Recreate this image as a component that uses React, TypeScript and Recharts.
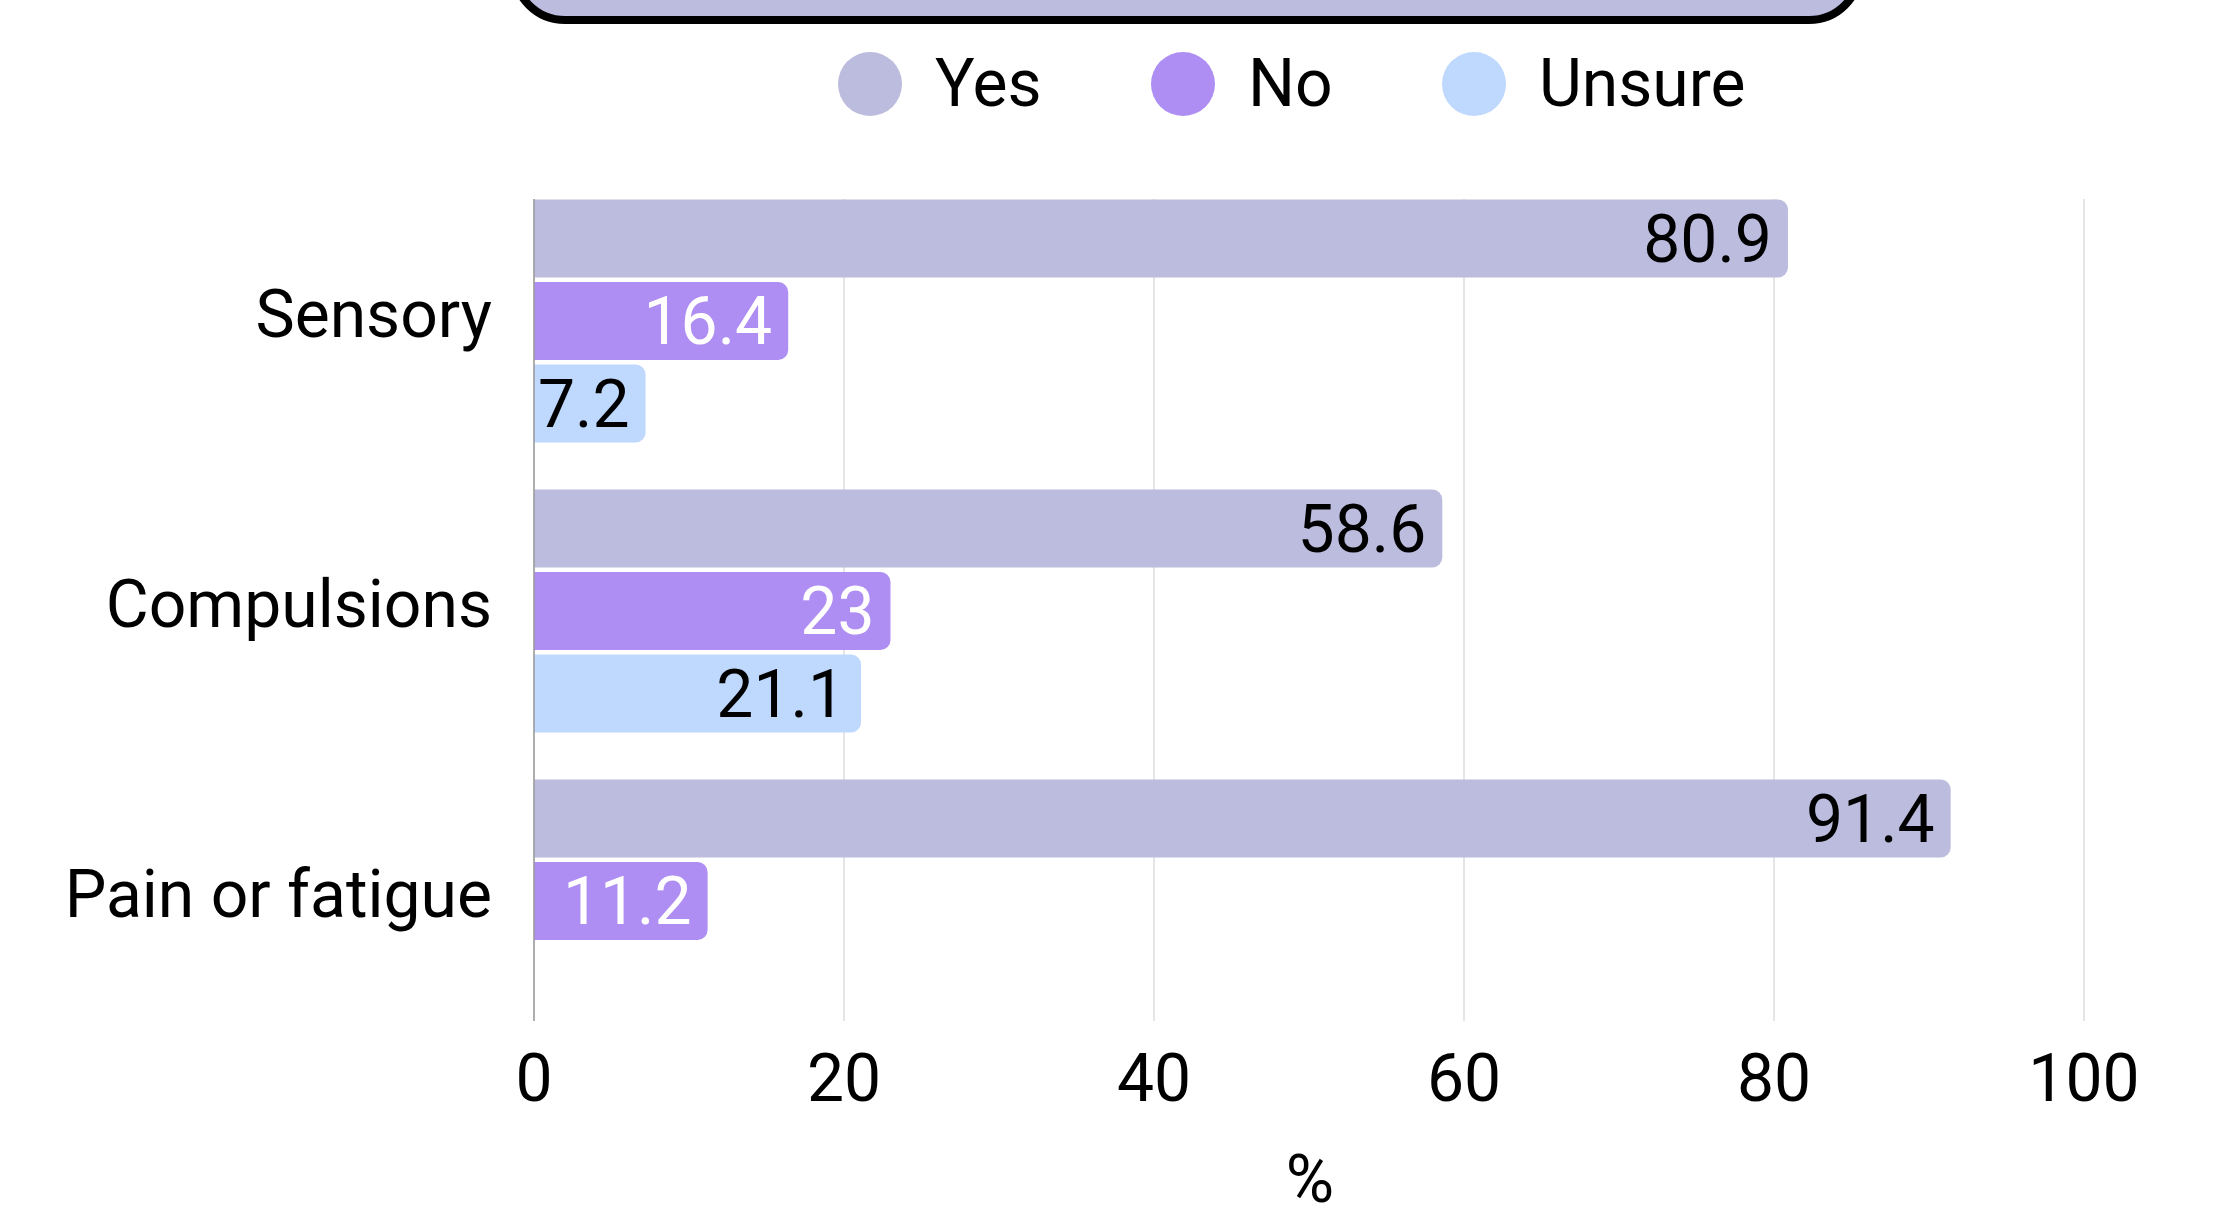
import React from "react";
import {
  BarChart,
  Bar,
  XAxis,
  YAxis,
  CartesianGrid,
  LabelList,
} from "recharts";

const categories = ["Sensory", "Compulsions", "Pain or fatigue"];
const yesValues = [80.9, 58.6, 91.4];
const noValues = [16.4, 23, 11.2];
const unsureValues = [7.2, 21.1, null];
const xTicks = [0, 20, 40, 60, 80, 100];

const series = [
  { key: "yes", name: "Yes", color: "#BBBCDE", labelColor: "#000000" },
  { key: "no", name: "No", color: "#AF8EF3", labelColor: "#ffffff" },
  { key: "unsure", name: "Unsure", color: "#BFD8FE", labelColor: "#000000" },
];

const data = categories.map((name, i) => ({
  name,
  yes: yesValues[i],
  no: noValues[i],
  unsure: unsureValues[i],
}));

const FONT = "Roboto, 'Noto Sans', sans-serif";
const FS = 66;

function ChartLegend() {
  const widths = [313, 291, undefined];
  return (
    <div
      style={{
        position: "absolute",
        top: 51,
        left: 838,
        display: "flex",
        alignItems: "center",
        fontFamily: FONT,
        fontSize: FS,
        color: "#000",
      }}
    >
      {series.map((s, i) => (
        <div key={s.key} style={{ display: "flex", alignItems: "center", width: widths[i] }}>
          <span
            style={{
              display: "inline-block",
              width: 64,
              height: 64,
              borderRadius: "50%",
              background: s.color,
            }}
          />
          <span style={{ marginLeft: 33, lineHeight: 1 }}>{s.name}</span>
        </div>
      ))}
    </div>
  );
}

export default function App() {
  return (
    <div style={{ position: "absolute", left: 0, top: 0, width: 2219, height: 1215, background: "#fff", overflow: "hidden" }}>
      {/* title box, mostly cut off above the picture */}
      <div
        style={{
          position: "absolute",
          left: 510,
          top: -100,
          width: 1354,
          height: 124,
          boxSizing: "border-box",
          border: "8px solid #000",
          borderRadius: 55,
          background: "#BBBCDE",
        }}
      />
      <ChartLegend />
      <div style={{ position: "absolute", left: 0, top: 0 }}>
        <BarChart
          width={2219}
          height={1215}
          data={data}
          layout="vertical"
          margin={{ top: 199, right: 135, bottom: 0, left: 0 }}
          barSize={78}
          barGap={4.5}
          style={{ fontFamily: FONT }}
        >
          <CartesianGrid horizontal={false} stroke="#dddddd" strokeWidth={1.5} />
          <XAxis
            type="number"
            domain={[0, 100]}
            ticks={xTicks}
            axisLine={false}
            tickLine={false}
            tickSize={0}
            tickMargin={33}
            height={194}
            tick={{ fill: "#000", fontSize: FS, fontFamily: FONT }}
            label={{
              content: ({ viewBox }: any) => (
                <text
                  x={viewBox.x + viewBox.width / 2 + 1}
                  y={viewBox.y + viewBox.height - 13}
                  textAnchor="middle"
                  fill="#000"
                  fontSize={FS}
                  fontFamily={FONT}
                >
                  %
                </text>
              ),
            }}
          />
          <YAxis
            type="category"
            dataKey="name"
            width={534}
            padding={{ top: -23.5, bottom: -24.5 }}
            axisLine={{ stroke: "#9a9a9a", strokeWidth: 1.5 }}
            tickLine={false}
            tickSize={0}
            tickMargin={42}
            tick={{ fill: "#000", fontSize: FS, fontFamily: FONT, dy: -7 }}
          />
          {series.map((s) => (
            <Bar
              key={s.key}
              dataKey={s.key}
              name={s.name}
              fill={s.color}
              radius={[0, 10, 10, 0]}
              isAnimationActive={false}
            >
              <LabelList
                dataKey={s.key}
                position="insideRight"
                offset={16}
                fill={s.labelColor}
                fontSize={FS}
                fontFamily={FONT}
              />
            </Bar>
          ))}
        </BarChart>
      </div>
    </div>
  );
}
